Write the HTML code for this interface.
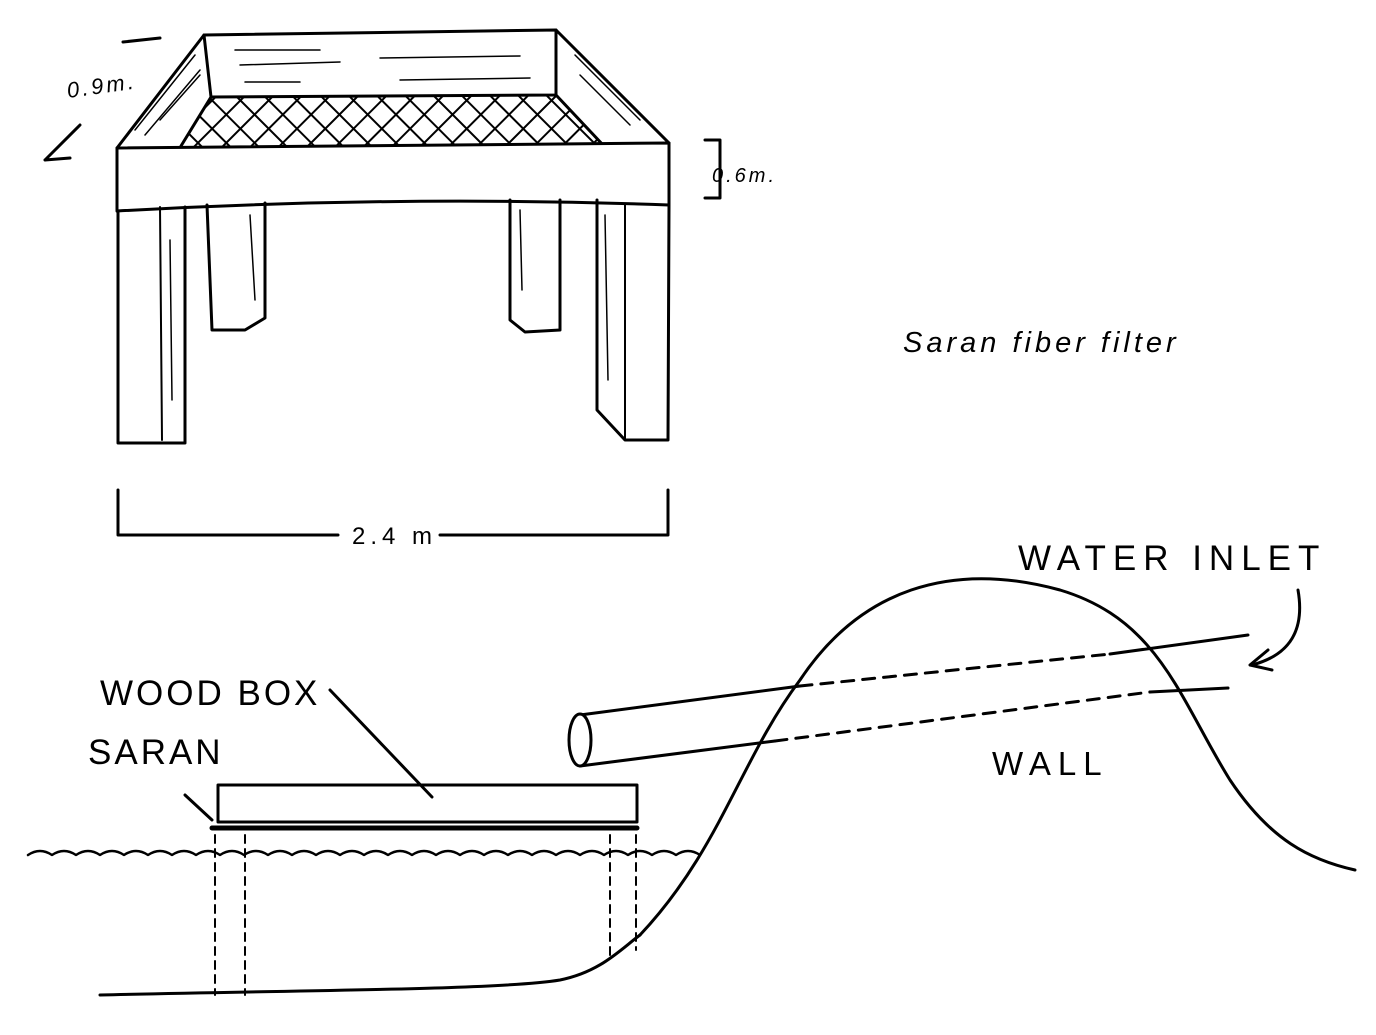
<!DOCTYPE html>
<html><head><style>
html,body{margin:0;padding:0;background:#fff;}
svg{display:block;}
text{font-family:"Liberation Sans",sans-serif;fill:#000;}
</style></head><body>
<svg width="1376" height="1035" viewBox="0 0 1376 1035" xmlns="http://www.w3.org/2000/svg">
<defs>
<pattern id="mesh" width="20" height="20" patternUnits="userSpaceOnUse" patternTransform="rotate(45)">
<rect width="20" height="20" fill="#fff"/>
<line x1="0" y1="0" x2="0" y2="20" stroke="#000" stroke-width="4"/>
<line x1="0" y1="0" x2="20" y2="0" stroke="#000" stroke-width="4"/>
</pattern>
</defs>
<g fill="none" stroke="#000" stroke-width="3" stroke-linejoin="round" stroke-linecap="round">
<polygon points="211,97 556,95 604,146 181,146" fill="url(#mesh)" stroke="none"/>
<path d="M117,148 L204,35 L556,30 L669,143"/>
<path d="M204,35 L211,97 L556,95 L556,30"/>
<path d="M211,97 L181,146 M556,95 L604,146"/>
<path d="M135,130 L195,55 M145,135 L200,70 M160,120 L200,75 M575,55 L640,120 M580,75 L630,125 M235,50 L320,50 M240,65 L340,62 M380,58 L520,56 M400,80 L530,78 M245,82 L300,82" stroke-width="1.5"/>
<path d="M117,148 L669,143 L669,205 Q400,195 117,211 Z" fill="#fff"/>
<path d="M118,211 L118,443 L185,443 L185,207"/>
<path d="M160,207 L162,440" stroke-width="2"/>
<path d="M207,205 L212,330 L245,330 L265,318 L265,203"/>
<path d="M510,200 L510,320 L525,332 L560,330 L560,200"/>
<path d="M597,200 L597,410 L625,440 L668,440 L669,205"/>
<path d="M625,205 L625,440" stroke-width="2"/>
<path d="M170,240 L172,400 M250,215 L255,300 M520,210 L522,290 M605,215 L608,380" stroke-width="1.5"/>
<path d="M123,42 L160,38 M45,160 L80,125 M45,160 L70,158"/>
<path d="M705,140 L720,140 L720,198 L705,198"/>
<path d="M118,490 L118,535 L338,535 M440,535 L668,535 L668,490"/>
<path d="M640,935 C720,850 740,760 800,680 C860,590 950,560 1060,590 C1160,620 1180,700 1230,780 C1270,840 1310,860 1355,870"/>
<path d="M100,995 C300,990 500,990 560,980 C600,972 620,950 640,935"/>
<path d="M580,715 L800,686 M1110,654 L1248,635"/>
<path d="M580,766 L775,741 M1150,692 L1228,688"/>
<path d="M800,686 L1110,654 M775,741 L1150,692" stroke-dasharray="12,9"/>
<ellipse cx="580" cy="740" rx="11" ry="26" fill="#fff"/>
<path d="M1298,590 C1305,630 1290,655 1252,665"/>
<path d="M1268,650 L1250,665 L1272,670"/>
<rect x="218" y="785" width="419" height="37" fill="#fff"/>
<path d="M212,828 L637,828" stroke-width="5"/>
<path d="M330,690 L432,797 M185,795 L212,820"/>
<path d="M28,855 q12,-8 24,0 q12,-8 24,0 q12,-8 24,0 q12,-8 24,0 q12,-8 24,0 q12,-8 24,0 q12,-8 24,0 q12,-8 24,0 q12,-8 24,0 q12,-8 24,0 q12,-8 24,0 q12,-8 24,0 q12,-8 24,0 q12,-8 24,0 q12,-8 24,0 q12,-8 24,0 q12,-8 24,0 q12,-8 24,0 q12,-8 24,0 q12,-8 24,0 q12,-8 24,0 q12,-8 24,0 q12,-8 24,0 q12,-8 24,0 q12,-8 24,0 q12,-8 24,0 q12,-8 24,0 q12,-8 24,0" stroke-width="2.5"/>
<path d="M215,835 L215,995 M245,835 L245,995 M610,835 L610,955 M636,835 L636,950" stroke-dasharray="8,6" stroke-width="2"/>
</g>
<text x="68" y="98" font-size="22" font-style="italic" letter-spacing="3" transform="rotate(-8 68 98)">0.9m.</text>
<text x="712" y="182" font-size="20" font-style="italic" letter-spacing="3">0.6m.</text>
<text x="352" y="544" font-size="24" letter-spacing="5">2.4 m</text>
<text x="903" y="352" font-size="29" font-style="italic" font-family="Liberation Serif" letter-spacing="4">Saran fiber filter</text>
<text x="1018" y="570" font-size="35" letter-spacing="7">WATER INLET</text>
<text x="992" y="775" font-size="33" letter-spacing="7">WALL</text>
<text x="100" y="705" font-size="35" letter-spacing="3">WOOD BOX</text>
<text x="88" y="764" font-size="35" letter-spacing="3">SARAN</text>
</svg>
</body></html>
